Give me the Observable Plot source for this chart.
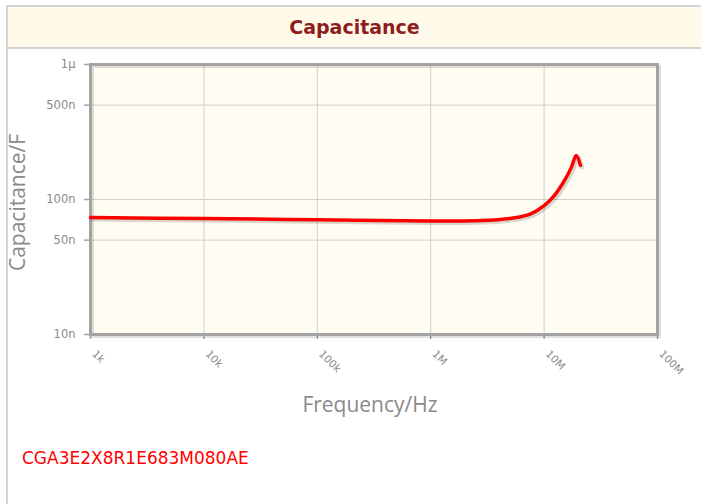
<!DOCTYPE html>
<html>
<head>
<meta charset="utf-8">
<script src="https://cdn.jsdelivr.net/npm/d3@7"></script>
<script src="https://cdn.jsdelivr.net/npm/@observablehq/plot@0.6"></script>
<style>
  html, body { margin: 0; padding: 0; background: #fff; }
  #wrap { position: relative; width: 701px; height: 504px; overflow: hidden; }
  #frameL { position: absolute; left: 6px; top: 5px; width: 2px; height: 499px; background: #d4d4d4; }
  #titlebar { position: absolute; left: 6px; top: 5px; right: 0; height: 40px;
    background: #fffaea; border-top: 2px solid #d4d4d4; border-bottom: 2px solid #d4d4d4; border-left: 2px solid #d4d4d4;
    text-align: center; line-height: 40px; font-family: "DejaVu Sans", sans-serif; font-weight: bold;
    font-size: 19px; color: #8f1d1d; }
  #chart { position: absolute; left: 0; top: 48px; }
  #part { position: absolute; left: 22px; top: 448px; font-family: "DejaVu Sans", sans-serif; font-size: 17px; color: #ff0000; }
</style>
</head>
<body>
<div id="wrap">
  <div id="frameL"></div>
  <div id="titlebar">Capacitance</div>
  <div id="chart"></div>
  <div id="part">CGA3E2X8R1E683M080AE</div>
</div>
<script>
const freqHz = [1e3, 1e4, 1e5, 1e6, 2.8e6, 5.5e6, 7.7e6, 1.0e7, 1.23e7, 1.51e7, 1.74e7, 1.92e7, 2.09e7];
const capF   = [73.5e-9, 72.2e-9, 70.8e-9, 69.4e-9, 69.8e-9, 73.2e-9, 78.7e-9, 90e-9, 107e-9, 138e-9, 173e-9, 212e-9, 179e-9];
const xTicks = [1e3, 1e4, 1e5, 1e6, 1e7, 1e8];
const xTickLabels = ["1k", "10k", "100k", "1M", "10M", "100M"];
const yTicks = [1e-8, 5e-8, 1e-7, 5e-7, 1e-6];
const yTickLabels = ["10n", "50n", "100n", "500n", "1µ"];
const xTitle = "Frequency/Hz";
const yTitle = "Capacitance/F";

const data = freqHz.map((f, i) => ({f, c: capF[i]}));
const axisGray = "#a3a3a3";
const textGray = "#8a8a8a";

const chart = Plot.plot({
  width: 701,
  height: 380,
  marginLeft: 90,
  marginRight: 44,
  marginTop: 16,
  marginBottom: 94,
  style: {background: "transparent", fontFamily: "DejaVu Sans, sans-serif"},
  x: {type: "log", domain: [1e3, 1e8], axis: null},
  y: {type: "log", domain: [1e-8, 1e-6], axis: null},
  marks: [
    Plot.frame({fill: "#fffcf2", stroke: null}),
    Plot.ruleX(xTicks, {x: d => d, stroke: "#cfcfcf", strokeWidth: 1}),
    Plot.ruleY(yTicks, {y: d => d, stroke: "#cfcfcf", strokeWidth: 1}),
    // tick marks
    Plot.ruleY(yTicks, {y: d => d, x1: 1e3, x2: 1e3, insetLeft: -6, stroke: axisGray, strokeWidth: 1.5}),
    Plot.ruleX(xTicks, {x: d => d, y1: 1e-8, y2: 1e-8, insetBottom: -5, stroke: axisGray, strokeWidth: 1.5}),
    Plot.frame({stroke: "#000", strokeOpacity: 0.12, strokeWidth: 3, dx: 2, dy: 2}),
    Plot.frame({stroke: axisGray, strokeWidth: 3}),
    // tick labels
    Plot.text(yTicks, {y: d => d, text: (d, i) => yTickLabels[i], frameAnchor: "left", dx: -15, textAnchor: "end", fill: textGray, fontSize: 11.5}),
    Plot.text(xTicks, {x: d => d, text: (d, i) => xTickLabels[i], frameAnchor: "bottom", dx: 1, dy: 20, rotate: 45, textAnchor: "start", fill: textGray, fontSize: 10.5}),
    Plot.line(data, {x: "f", y: "c", stroke: "#000", strokeOpacity: 0.15, strokeWidth: 4, dx: 2, dy: 2, curve: "catmull-rom"}),
    Plot.line(data, {x: "f", y: "c", stroke: "#ff0000", strokeWidth: 3.5, curve: "catmull-rom"}),
    Plot.text([yTitle], {text: d => d, frameAnchor: "left", dx: -72, dy: 3, rotate: -90, textAnchor: "middle", fontSize: 21, fill: textGray, fontFamily: "Open Sans"}),
    Plot.text([xTitle], {text: d => d, frameAnchor: "bottom", dx: -4, dy: 77, textAnchor: "middle", fontSize: 21, fill: textGray, fontFamily: "Open Sans"})
  ]
});
document.getElementById("chart").appendChild(chart);
</script>
</body>
</html>
